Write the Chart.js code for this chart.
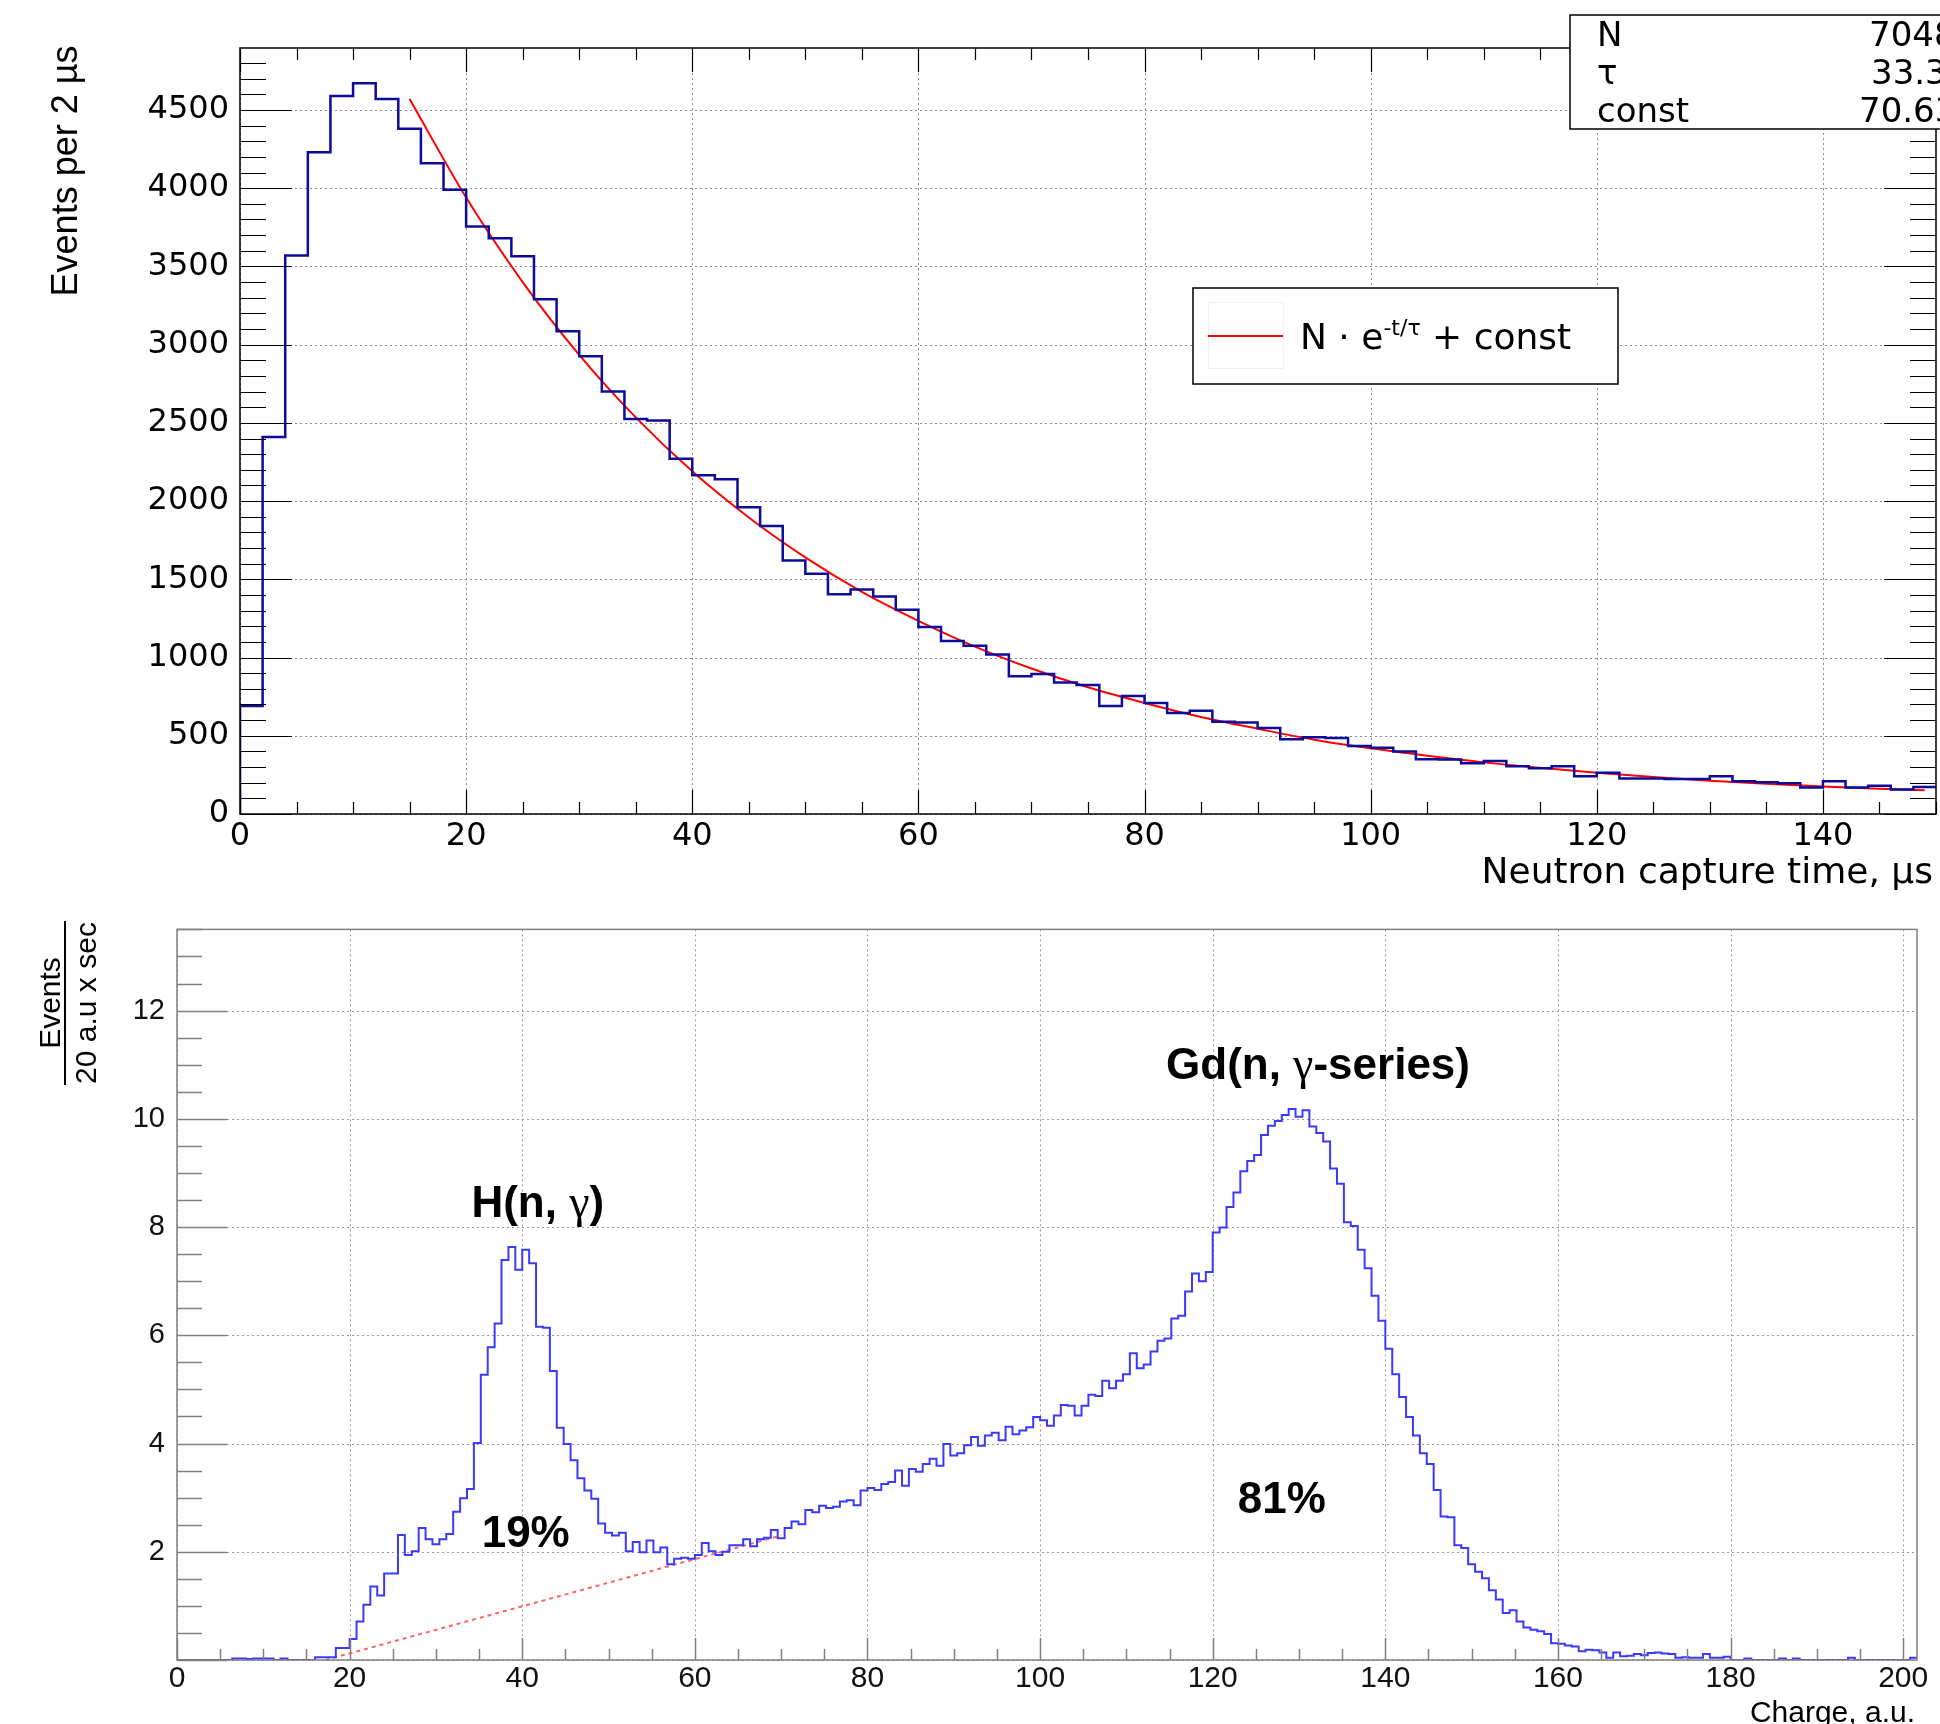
<!DOCTYPE html>
<html lang="en">
<head>
<meta charset="UTF-8">
<title>Neutron capture time and charge spectrum</title>
<style>
  body { margin: 0; background: #fff; }
  #wrap { position: relative; width: 1940px; height: 1724px; overflow: hidden; background: #fff; }
  canvas { position: absolute; left: 0; }
  #timeChart { top: 0; }
  #chargeChart { top: 900px; }
</style>
</head>
<body>
<div id="wrap">
  <canvas id="timeChart" width="1940" height="900"></canvas>
  <canvas id="chargeChart" width="1940" height="824"></canvas>
</div>

<script src="https://cdn.jsdelivr.net/npm/chart.js"></script>
<script>
// ---- top panel: capture time, 2 us bins from 0 to 150 us ----
const timeBinWidth = 2;
const timeCounts = [
  690, 2410, 3570, 4230, 4590, 4670, 4570, 4380, 4160, 3990,
  3755, 3680, 3565, 3290, 3085, 2925, 2700, 2525, 2515, 2270,
  2165, 2140, 1960, 1840, 1620, 1535, 1405, 1435, 1390, 1305,
  1195, 1105, 1075, 1020, 880, 895, 840, 825, 690, 755,
  710, 645, 660, 590, 585, 550, 478, 490, 485, 434,
  424, 400, 350, 349, 325, 339, 305, 292, 305, 241,
  264, 227, 227, 224, 224, 241, 210, 203, 197, 170,
  210, 170, 180, 156, 173
];
// red fit line
const fitTimes = [15, 20, 25, 30, 35, 40, 45, 50, 55, 60, 65, 70, 75, 80, 85, 90, 95, 100, 105, 110, 115, 120, 125, 130, 135, 140, 145, 149];
const fitCounts = [4570, 3940, 3400, 2935, 2535, 2190, 1895, 1640, 1420, 1235, 1070, 930, 810, 710, 620, 545, 475, 420, 372, 330, 295, 263, 236, 213, 193, 176, 161, 152];
const fitParams = ['N', 'τ', 'const'];
const fitValues = ['7048', '33.3', '70.63'];
const timeTicks = [0, 20, 40, 60, 80, 100, 120, 140];
const countTicks = [0, 500, 1000, 1500, 2000, 2500, 3000, 3500, 4000, 4500];

// ---- bottom panel: charge, 0.8 a.u. bins from 0 to 201.6 ----
const chargeBinWidth = 0.8;
const chargeRates = [
  0, 0, 0, 0, 0, 0, 0, 0, 0.03, 0.03,
  0.02, 0.03, 0.03, 0.03, 0, 0.03, 0, 0, 0, 0,
  0.05, 0.05, 0.05, 0.22, 0.22, 0.39, 0.71, 1.02, 1.36, 1.19,
  1.60, 1.60, 2.31, 1.94, 2.01, 2.44, 2.23, 2.14, 2.23, 2.33,
  2.74, 2.99, 3.16, 4.01, 5.27, 5.78, 6.22, 7.39, 7.63, 7.21,
  7.58, 7.33, 6.16, 6.14, 5.34, 4.29, 3.99, 3.69, 3.36, 3.13,
  2.98, 2.52, 2.35, 2.30, 2.35, 2.01, 2.18, 1.99, 2.21, 1.99,
  2.08, 1.77, 1.87, 1.89, 1.87, 1.94, 2.16, 2.01, 1.94, 2.00,
  2.12, 2.12, 2.23, 2.10, 2.23, 2.26, 2.40, 2.25, 2.44, 2.56,
  2.51, 2.77, 2.73, 2.85, 2.81, 2.83, 2.93, 2.95, 2.86, 3.13,
  3.18, 3.14, 3.25, 3.29, 3.50, 3.22, 3.53, 3.48, 3.62, 3.72,
  3.59, 3.99, 3.78, 3.82, 3.97, 4.12, 3.96, 4.15, 4.20, 4.06,
  4.31, 4.17, 4.24, 4.30, 4.49, 4.43, 4.33, 4.52, 4.71, 4.70,
  4.52, 4.70, 4.90, 4.88, 5.16, 5.02, 5.16, 5.28, 5.67, 5.39,
  5.46, 5.70, 5.90, 5.94, 6.31, 6.36, 6.81, 7.14, 7.00, 7.17,
  7.90, 7.99, 8.37, 8.64, 9.03, 9.22, 9.33, 9.70, 9.87, 9.96,
  10.07, 10.18, 10.04, 10.16, 9.86, 9.74, 9.58, 9.08, 8.80, 8.09,
  8.02, 7.58, 7.24, 6.73, 6.27, 5.75, 5.28, 4.86, 4.49, 4.15,
  3.82, 3.62, 3.14, 2.65, 2.64, 2.12, 2.07, 1.77, 1.63, 1.51,
  1.29, 1.12, 0.87, 0.92, 0.71, 0.60, 0.56, 0.53, 0.48, 0.31,
  0.30, 0.27, 0.25, 0.16, 0.19, 0.18, 0.14, 0.04, 0.14, 0.07,
  0.08, 0.11, 0.09, 0.13, 0.14, 0.12, 0.11, 0.04, 0.05, 0.04,
  0.04, 0.11, 0.04, 0.04, 0.06, 0, 0, 0.03, 0, 0,
  0, 0, 0.03, 0, 0.03, 0, 0, 0, 0, 0,
  0, 0, 0.04, 0, 0, 0, 0, 0, 0, 0,
  0, 0.04
];
// dotted background line under the H peak
const bgCharge = [17.2, 70];
const bgRate = [0, 2.3];
const peakLabels = ['H(n, γ)', 'Gd(n, γ-series)'];
const peakShares = ['19%', '81%'];
const chargeTicks = [0, 20, 40, 60, 80, 100, 120, 140, 160, 180, 200];
const rateTicks = [2, 4, 6, 8, 10, 12];

// histogram outline: left bin edges, value held to the next edge
function stepPoints(counts, width) {
  const pts = [{ x: 0, y: 0 }];
  counts.forEach((c, i) => pts.push({ x: i * width, y: c }));
  pts.push({ x: counts.length * width, y: counts[counts.length - 1] });
  return pts;
}

const fixedTicks = values => s => { s.ticks = values.map(v => ({ value: v })); };

// ROOT-like frame: dotted grid under the data, frame and tick marks over it
const rootFrame = {
  id: 'rootFrame',
  beforeDatasetsDraw(chart, args, o) {
    const { ctx, chartArea: a, scales: { x, y } } = chart;
    ctx.save();
    ctx.strokeStyle = o.gridColor;
    ctx.lineWidth = 1;
    ctx.setLineDash([2, 3]);
    ctx.beginPath();
    for (let v = x.min; v <= x.max + 1e-9; v += o.xMajor) {
      const px = Math.round(x.getPixelForValue(v)) + 0.5;
      ctx.moveTo(px, a.top);
      ctx.lineTo(px, a.bottom);
    }
    for (let v = y.min; v <= y.max + 1e-9; v += o.yMajor) {
      const py = Math.round(y.getPixelForValue(v)) + 0.5;
      ctx.moveTo(a.left, py);
      ctx.lineTo(a.right, py);
    }
    ctx.stroke();
    ctx.restore();
  },
  afterDatasetsDraw(chart, args, o) {
    const { ctx, chartArea: a, scales: { x, y } } = chart;
    const isMajor = (v, step) => Math.abs(v / step - Math.round(v / step)) < 1e-6;
    ctx.save();
    ctx.strokeStyle = o.frameColor;
    ctx.lineWidth = o.frameWidth;
    ctx.strokeRect(a.left, a.top, a.right - a.left, a.bottom - a.top);
    ctx.lineWidth = o.tickWidth;
    ctx.beginPath();
    const nx = Math.floor((x.max - x.min) / o.xMinor + 1e-6);
    for (let i = 0; i <= nx; i++) {
      const v = x.min + i * o.xMinor;
      const k = isMajor(v, o.xMajor) ? 1 : 0;
      const px = Math.round(x.getPixelForValue(v)) + 0.5;
      if (o.bottom) { ctx.moveTo(px, a.bottom); ctx.lineTo(px, a.bottom - o.bottom[k]); }
      if (o.top) { ctx.moveTo(px, a.top); ctx.lineTo(px, a.top + o.top[k]); }
    }
    const ny = Math.floor((y.max - y.min) / o.yMinor + 1e-6);
    for (let i = 0; i <= ny; i++) {
      const v = y.min + i * o.yMinor;
      const k = isMajor(v, o.yMajor) ? 1 : 0;
      const py = Math.round(y.getPixelForValue(v)) + 0.5;
      if (o.left) { ctx.moveTo(a.left, py); ctx.lineTo(a.left + o.left[k], py); }
      if (o.right) { ctx.moveTo(a.right, py); ctx.lineTo(a.right - o.right[k], py); }
    }
    ctx.stroke();
    ctx.restore();
  }
};

// ---------- top panel ----------
const timeExtras = {
  id: 'timeExtras',
  afterDraw(chart) {
    const { ctx } = chart;
    ctx.save();
    ctx.fillStyle = '#000';

    // axis titles
    ctx.font = '36px "DejaVu Sans"';
    ctx.textAlign = 'right';
    ctx.fillText('Neutron capture time, µs', 1933, 883);
    ctx.save();
    ctx.translate(77, 171);
    ctx.rotate(-Math.PI / 2);
    ctx.textAlign = 'center';
    ctx.font = '36px "Liberation Sans"';
    ctx.fillText('Events per 2 µs', 0, 0);
    ctx.restore();

    // legend box
    ctx.fillStyle = '#fff';
    ctx.fillRect(1193, 288, 425, 96);
    ctx.strokeStyle = '#000';
    ctx.lineWidth = 1.5;
    ctx.strokeRect(1193, 288, 425, 96);
    ctx.strokeStyle = '#f0f0f0';
    ctx.lineWidth = 1;
    ctx.strokeRect(1208.5, 302.5, 75, 66);
    ctx.strokeStyle = '#ff0000';
    ctx.lineWidth = 2;
    ctx.beginPath();
    ctx.moveTo(1208, 336);
    ctx.lineTo(1283, 336);
    ctx.stroke();
    ctx.fillStyle = '#000';
    ctx.textAlign = 'left';
    let tx = 1300;
    ctx.font = '36px "DejaVu Sans"';
    ctx.fillText('N · e', tx, 349);
    tx += ctx.measureText('N · e').width;
    ctx.font = '22px "DejaVu Sans"';
    ctx.fillText('-t/τ', tx, 335);
    tx += ctx.measureText('-t/τ').width;
    ctx.font = '36px "DejaVu Sans"';
    ctx.fillText(' + const', tx, 349);

    // fit statistics box, running off the right edge
    ctx.fillStyle = '#fff';
    ctx.fillRect(1570, 15, 400, 114);
    ctx.strokeStyle = '#000';
    ctx.lineWidth = 1.5;
    ctx.strokeRect(1570, 15, 400, 114);
    ctx.fillStyle = '#000';
    ctx.font = '34px "DejaVu Sans"';
    const rowY = [46, 84, 122];
    const valX = [1869, 1871, 1859];
    fitParams.forEach((p, i) => {
      ctx.fillText(p, 1597, rowY[i]);
      ctx.fillText(fitValues[i], valX[i], rowY[i]);
    });
    ctx.restore();
  }
};

new Chart(document.getElementById('timeChart'), {
  type: 'line',
  data: {
    datasets: [
      {
        data: stepPoints(timeCounts, timeBinWidth),
        stepped: true,
        borderColor: '#0b0b9c',
        borderWidth: 2.5,
        pointRadius: 0,
        fill: false
      },
      {
        data: fitTimes.map((t, i) => ({ x: t, y: fitCounts[i] })),
        borderColor: '#ff0000',
        borderWidth: 2,
        pointRadius: 0,
        cubicInterpolationMode: 'monotone',
        fill: false
      }
    ]
  },
  options: {
    responsive: false,
    animation: false,
    devicePixelRatio: 1,
    layout: { padding: { top: 48, right: 4, left: 0, bottom: 0 }, autoPadding: false },
    scales: {
      x: {
        type: 'linear', min: 0, max: 150,
        grid: { display: false, drawTicks: false },
        border: { display: false },
        ticks: { maxRotation: 0, autoSkip: false, padding: 3, callback: v => String(v),
                 color: '#000', font: { family: 'DejaVu Sans', size: 32 } },
        afterBuildTicks: fixedTicks(timeTicks),
        afterFit: s => { s.height = 86; }
      },
      y: {
        min: 0, max: 4896,
        grid: { display: false, drawTicks: false },
        border: { display: false },
        ticks: { autoSkip: false, padding: 11, callback: v => String(v),
                 color: '#000', font: { family: 'DejaVu Sans', size: 32 } },
        afterBuildTicks: fixedTicks(countTicks),
        afterFit: s => { s.width = 240; }
      }
    },
    plugins: {
      legend: { display: false },
      tooltip: { enabled: false },
      rootFrame: {
        gridColor: '#8c8c8c', frameColor: '#000', frameWidth: 1.5, tickWidth: 1.2,
        xMinor: 5, xMajor: 20, yMinor: 100, yMajor: 500,
        bottom: [12, 24], top: [12, 24], left: [26, 52], right: [26, 52]
      }
    }
  },
  plugins: [rootFrame, timeExtras]
});

// ---------- bottom panel ----------
// draw a label centred on cx, with the greek letter in a thinner serif face
function mixedLabel(ctx, text, cx, by) {
  const bold = 'bold 44px "Liberation Sans"';
  const greek = '46px "Liberation Serif"';
  const parts = text.split(/(γ)/).filter(p => p.length);
  const width = parts.reduce((w, p) => {
    ctx.font = p === 'γ' ? greek : bold;
    return w + ctx.measureText(p).width;
  }, 0);
  let x = cx - width / 2;
  ctx.textAlign = 'left';
  parts.forEach(p => {
    ctx.font = p === 'γ' ? greek : bold;
    ctx.fillText(p, x, by);
    x += ctx.measureText(p).width;
  });
}

const chargeExtras = {
  id: 'chargeExtras',
  afterDraw(chart) {
    const { ctx, scales: { x, y } } = chart;
    ctx.save();
    ctx.fillStyle = '#000';

    // peak labels, anchored in data units
    mixedLabel(ctx, peakLabels[0], x.getPixelForValue(41.8), y.getPixelForValue(8.18));
    mixedLabel(ctx, peakLabels[1], x.getPixelForValue(132.2), y.getPixelForValue(10.74));
    ctx.font = 'bold 44px "Liberation Sans"';
    ctx.textAlign = 'center';
    ctx.fillText(peakShares[0], x.getPixelForValue(40.4), y.getPixelForValue(2.08));
    ctx.fillText(peakShares[1], x.getPixelForValue(128.0), y.getPixelForValue(2.72));

    // x title
    ctx.font = '30px "Liberation Sans"';
    ctx.textAlign = 'right';
    ctx.fillText('Charge, a.u.', 1915, 822);

    // y title as a fraction
    ctx.save();
    ctx.translate(65, 103);
    ctx.rotate(-Math.PI / 2);
    ctx.textAlign = 'center';
    ctx.font = '30px "Liberation Sans"';
    ctx.fillText('Events', 0, -5);
    ctx.fillText('20 a.u x sec', 0, 31);
    ctx.strokeStyle = '#000';
    ctx.lineWidth = 2;
    ctx.beginPath();
    ctx.moveTo(-82, 0);
    ctx.lineTo(82, 0);
    ctx.stroke();
    ctx.restore();
    ctx.restore();
  }
};

new Chart(document.getElementById('chargeChart'), {
  type: 'line',
  data: {
    datasets: [
      {
        data: stepPoints(chargeRates, chargeBinWidth),
        stepped: true,
        borderColor: '#3a3aff',
        borderWidth: 2,
        pointRadius: 0,
        fill: false
      },
      {
        data: bgCharge.map((c, i) => ({ x: c, y: bgRate[i] })),
        borderColor: 'rgba(255, 70, 70, 0.85)',
        borderWidth: 2,
        borderDash: [4, 4],
        pointRadius: 0,
        fill: false
      }
    ]
  },
  options: {
    responsive: false,
    animation: false,
    devicePixelRatio: 1,
    layout: { padding: { top: 21, right: 23, left: 0, bottom: 0 }, autoPadding: false },
    scales: {
      x: {
        type: 'linear', min: 0, max: 201.6,
        grid: { display: false, drawTicks: false },
        border: { display: false },
        ticks: { maxRotation: 0, autoSkip: false, padding: 1, callback: v => String(v),
                 color: '#111', font: { family: 'Liberation Sans', size: 30 } },
        afterBuildTicks: fixedTicks(chargeTicks),
        afterFit: s => { s.height = 64; }
      },
      y: {
        min: 0, max: 13.5,
        grid: { display: false, drawTicks: false },
        border: { display: false },
        ticks: { autoSkip: false, padding: 12, callback: v => String(v),
                 color: '#111', font: { family: 'Liberation Sans', size: 29 } },
        afterBuildTicks: fixedTicks(rateTicks),
        afterFit: s => { s.width = 177; }
      }
    },
    plugins: {
      legend: { display: false },
      tooltip: { enabled: false },
      rootFrame: {
        gridColor: '#9a9a9a', frameColor: '#808080', frameWidth: 1.5, tickWidth: 1.5,
        xMinor: 5, xMajor: 20, yMinor: 0.5, yMajor: 2,
        bottom: [11, 22], top: null, left: [25, 50], right: null
      }
    }
  },
  plugins: [rootFrame, chargeExtras]
});
</script>
</body>
</html>
